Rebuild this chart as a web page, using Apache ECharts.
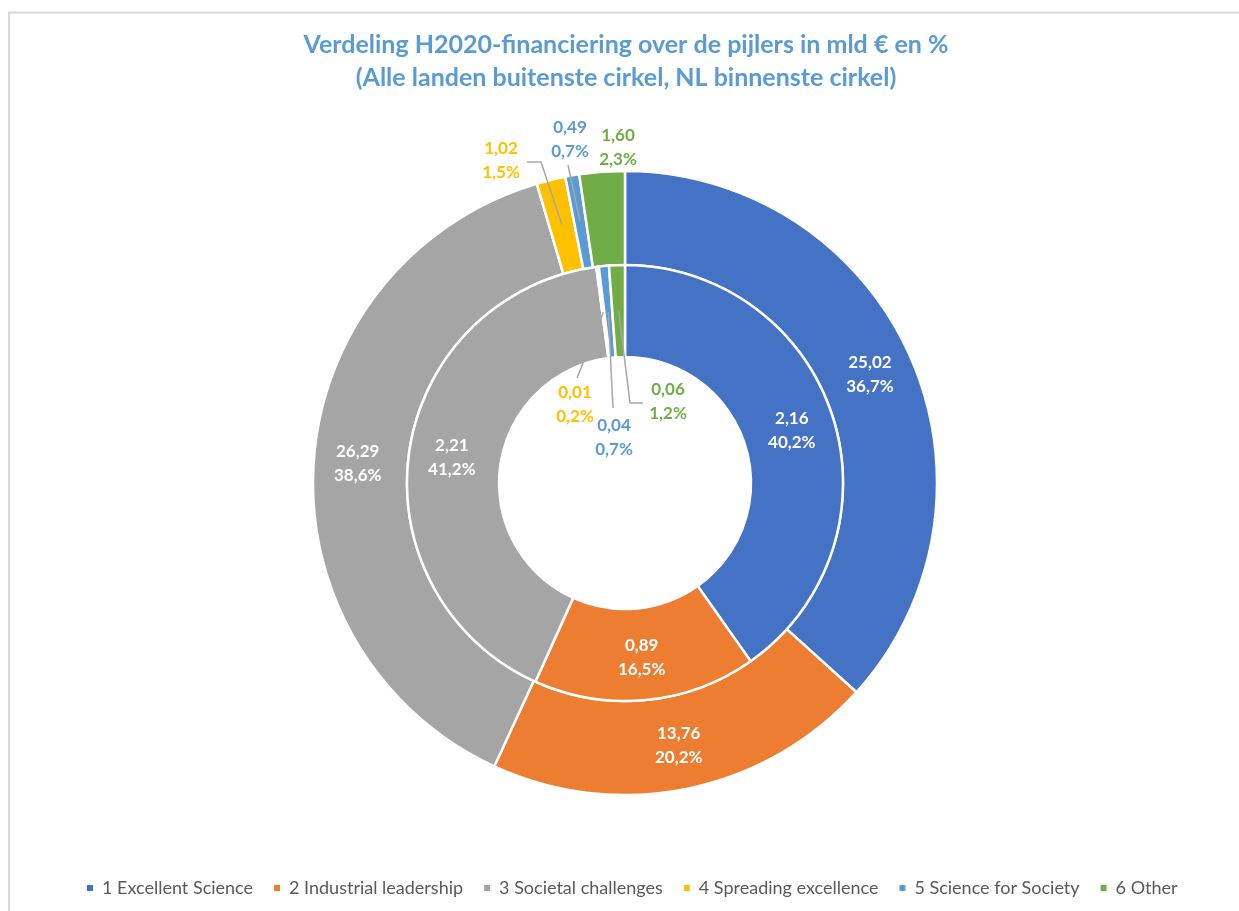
<!DOCTYPE html>
<html>
<head>
<meta charset="utf-8">
<title>Verdeling H2020-financiering</title>
<script src="https://cdn.jsdelivr.net/npm/echarts@6/dist/echarts.min.js"></script>
<style>
  html, body { margin: 0; padding: 0; background: #ffffff; }
  #chart { width: 1239px; height: 911px; }
</style>
</head>
<body>
<div id="chart"></div>
<script>
// Pillars of Horizon 2020
const pillars = [
  '1 Excellent Science',
  '2 Industrial leadership',
  '3 Societal challenges',
  '4 Spreading excellence',
  '5 Science for Society',
  '6 Other'
];
// Funding in billion euro, all countries (outer ring)
const allCountries = [25.02, 13.76, 26.29, 1.02, 0.49, 1.60];
// Funding in billion euro, the Netherlands (inner ring)
const netherlands = [2.16, 0.887, 2.21, 0.01, 0.04, 0.063];

const colors = ['#4472C4', '#ED7D31', '#A5A5A5', '#FFC000', '#5B9BD5', '#70AD47'];

const CX = 625, CY = 483;
const OUTER_R = [218, 312];
const INNER_R = [126, 218];
const FONT = 'Lato, "Open Sans", "Liberation Sans", sans-serif';

// Placement of the labels for the thin slices near the top: label centre and
// the bend of the leader line, as offsets from the centre of the donut.
const smallLabels = {
  outer: {
    3: { at: [-124, -322], bend: [[-84, -321], [-98, -321]], line: true },
    4: { at: [-55, -343], bend: [[-57, -318], [-57, -318]], line: true },
    5: { at: [-7, -335], line: false }
  },
  inner: {
    3: { at: [-50, -78], bend: [[-48, -105], [-48, -105]], line: true },
    4: { at: [-11, -45], bend: [[-12, -75], [-12, -75]], line: true },
    5: { at: [43, -81], bend: [[5, -80], [18, -80]], line: true }
  }
};

function sum(a) { return a.reduce((s, v) => s + v, 0); }
function fmt(v, d) { return v.toFixed(d).replace('.', ','); }
function labelText(values, i) {
  return fmt(values[i], 2) + '\n' + fmt(values[i] / sum(values) * 100, 1) + '%';
}

function midAngle(values, i) {
  const total = sum(values);
  let before = 0;
  for (let k = 0; k < i; k++) before += values[k];
  return ((before + values[i] / 2) / total) * Math.PI * 2; // clockwise from 12 o'clock
}

const labelStyle = {
  fontFamily: FONT,
  fontWeight: 'bold',
  fontSize: 17,
  lineHeight: 24
};

// Filled ring with the white in-slice labels of the wide slices
function ringSeries(name, values, radius, small) {
  return {
    name: name,
    type: 'pie',
    z: 2,
    center: [CX, CY],
    radius: radius,
    startAngle: 90,
    clockwise: true,
    avoidLabelOverlap: false,
    itemStyle: { borderColor: '#ffffff', borderWidth: 2.5 },
    label: Object.assign({ position: 'inside', color: '#ffffff' }, labelStyle),
    labelLine: { show: false },
    data: values.map((v, i) => ({
      name: pillars[i],
      value: v,
      itemStyle: { color: colors[i] },
      label: {
        show: small[i] === undefined,
        formatter: () => labelText(values, i)
      }
    }))
  };
}

// Transparent copy of a ring that carries the coloured callout labels of the
// thin slices, so that their leader lines lie on top of the filled ring.
function calloutSeries(name, values, radius, small, midR) {
  return {
    name: name,
    type: 'pie',
    z: 5,
    center: [CX, CY],
    radius: radius,
    startAngle: 90,
    clockwise: true,
    silent: true,
    legendHoverLink: false,
    avoidLabelOverlap: false,
    itemStyle: { color: 'rgba(0,0,0,0)', borderWidth: 0 },
    label: Object.assign({ position: 'outside' }, labelStyle),
    labelLine: { show: true, lineStyle: { color: '#A6A6A6', width: 1.5 } },
    labelLayout: function (params) {
      const cfg = small[params.dataIndex];
      if (!cfg) return {};
      const a = midAngle(values, params.dataIndex);
      const out = {
        x: CX + cfg.at[0],
        y: CY + cfg.at[1],
        align: 'center',
        verticalAlign: 'middle'
      };
      if (cfg.line) {
        out.labelLinePoints = [
          [CX + midR * Math.sin(a), CY - midR * Math.cos(a)],
          [CX + cfg.bend[0][0], CY + cfg.bend[0][1]],
          [CX + cfg.bend[1][0], CY + cfg.bend[1][1]]
        ];
      }
      return out;
    },
    data: values.map((v, i) => ({
      name: pillars[i],
      value: v,
      label: {
        show: small[i] !== undefined,
        color: colors[i],
        formatter: () => labelText(values, i)
      },
      labelLine: { show: small[i] !== undefined && small[i].line }
    }))
  };
}

const chart = echarts.init(document.getElementById('chart'), null, { renderer: 'canvas' });

chart.setOption({
  backgroundColor: '#ffffff',
  animation: false,
  title: {
    text: 'Verdeling H2020-financiering over de pijlers in mld € en %\n(Alle landen buitenste cirkel, NL binnenste cirkel)',
    left: 621,
    top: 23,
    textAlign: 'center',
    textStyle: {
      color: '#5B9BD5',
      fontFamily: FONT,
      fontWeight: 'bold',
      fontSize: 25,
      lineHeight: 33
    }
  },
  legend: {
    data: pillars,
    left: 80,
    top: 874,
    icon: 'rect',
    itemWidth: 8,
    itemHeight: 8,
    itemGap: 19,
    textStyle: { color: '#595959', fontFamily: FONT, fontSize: 18, padding: [0, 0, 0, 3] }
  },
  graphic: [{
    type: 'rect',
    silent: true,
    shape: { x: 9, y: 12.5, width: 1400, height: 1000 },
    style: { fill: 'none', stroke: '#D9D9D9', lineWidth: 2 }
  }],
  series: [
    ringSeries('Alle landen', allCountries, OUTER_R, smallLabels.outer),
    ringSeries('Nederland', netherlands, INNER_R, smallLabels.inner),
    calloutSeries('Alle landen ', allCountries, OUTER_R, smallLabels.outer, 266),
    calloutSeries('Nederland ', netherlands, INNER_R, smallLabels.inner, 172)
  ]
});
</script>
</body>
</html>
